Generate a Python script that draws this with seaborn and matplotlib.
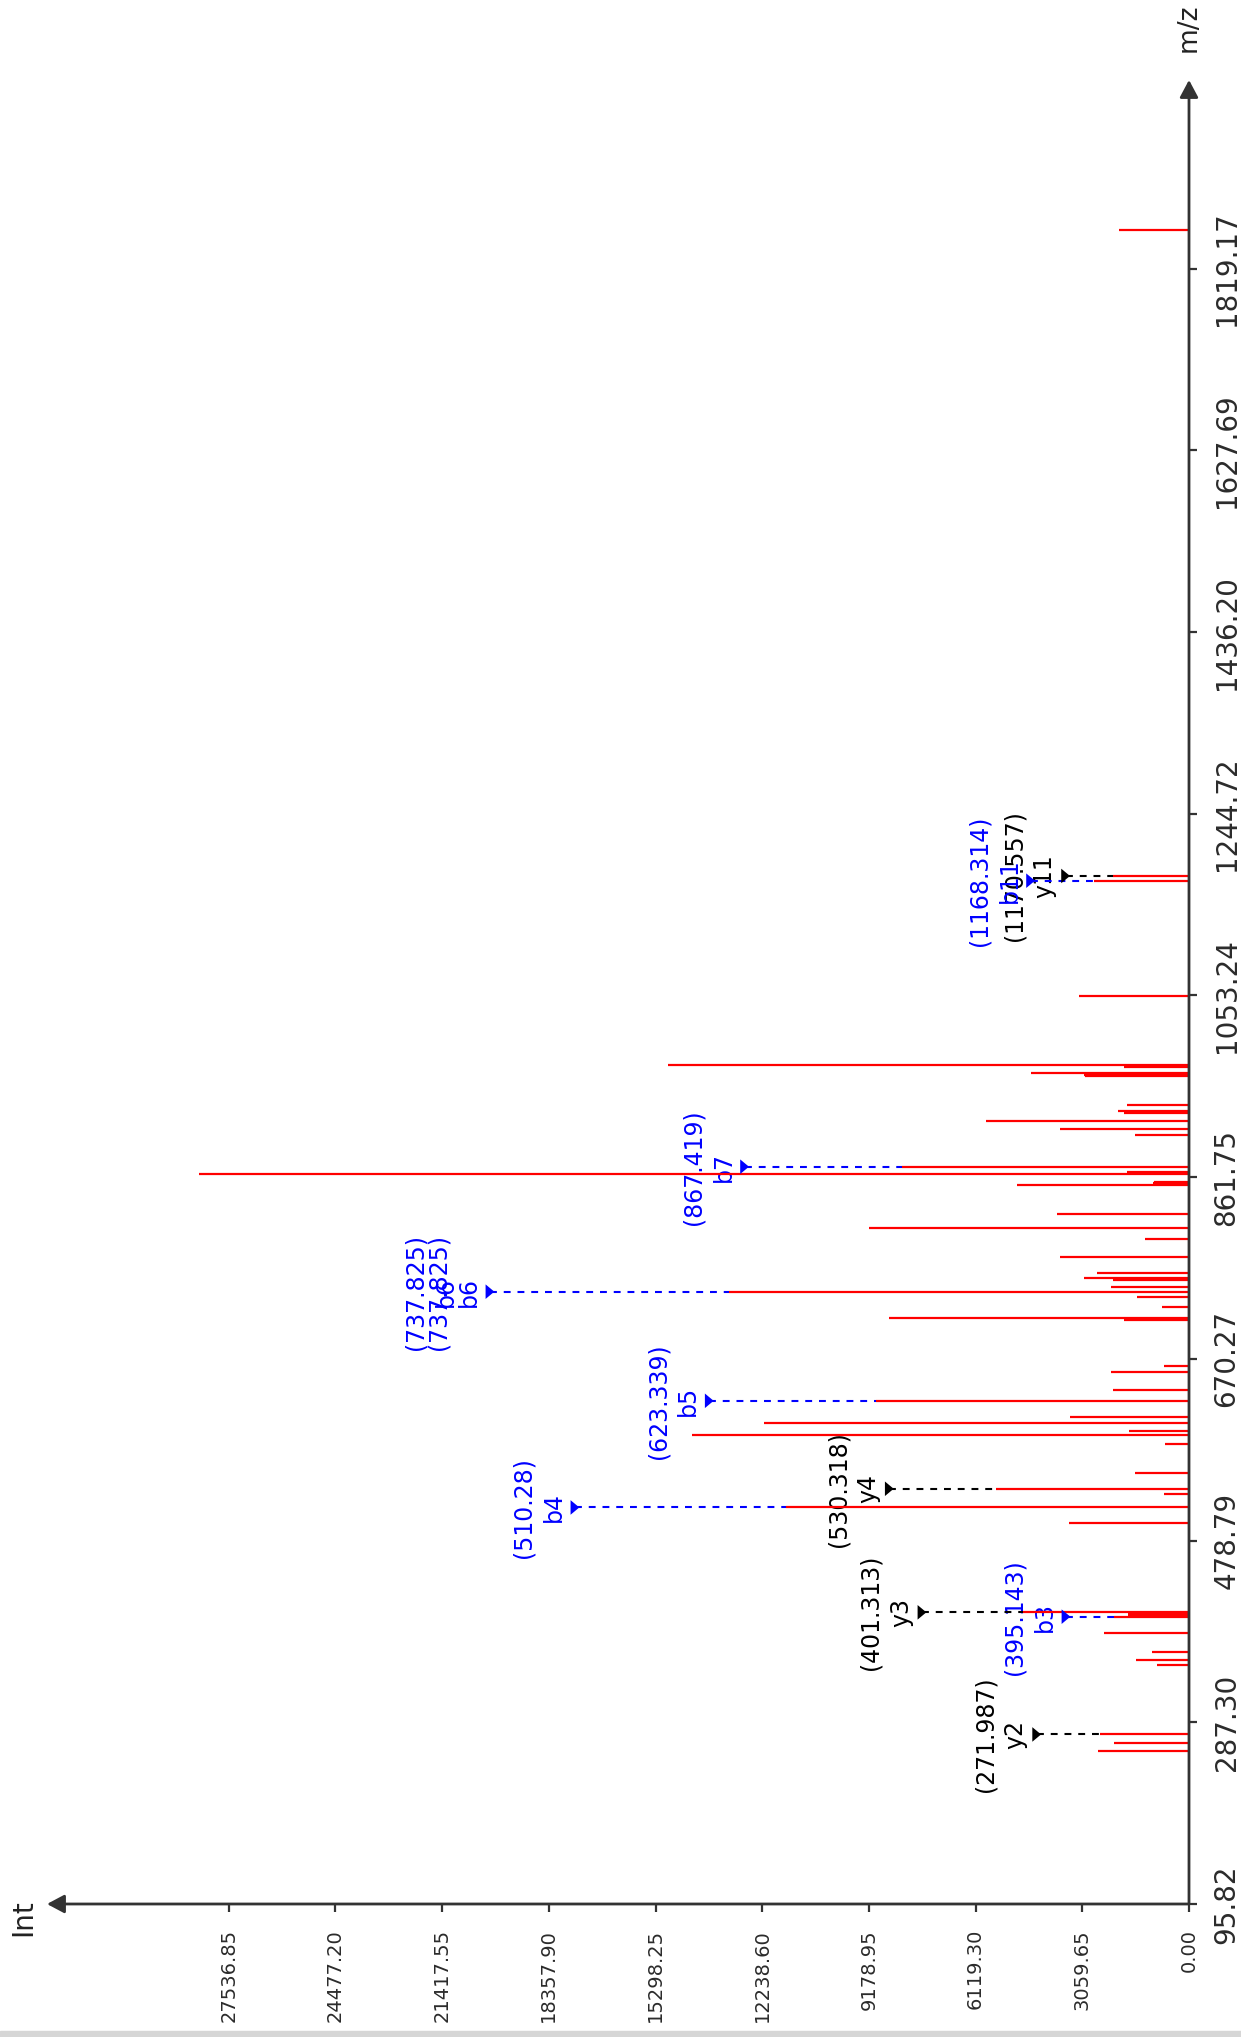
import matplotlib
matplotlib.use("Agg")
import matplotlib.pyplot as plt
import seaborn as sns
import pandas as pd
from matplotlib.path import Path
from matplotlib.patches import Rectangle

# ---------------- data ----------------
peak_mz = [257.5, 266.0, 274.5, 348.0, 353.3, 361.6, 381.3,
           398.6, 400.2, 401.5, 402.4, 403.2,
           497.0, 513.7, 527.5, 533.4, 550.3, 580.8, 590.0, 594.5, 603.2, 609.5, 626.1,
           637.5, 656.8, 662.8, 710.8, 711.8, 713.0, 724.6, 735.8, 741.1, 746.4,
           753.4, 755.2, 761.1, 777.6, 796.9, 808.5, 823.0, 853.5, 855.3, 856.3,
           864.8, 867.5, 872.8, 906.5, 912.2, 921.0, 929.7, 931.8, 937.8,
           968.6, 969.6, 971.2, 977.5, 978.6, 980.0, 1052.8, 1174.2, 1179.2, 1859.6]
peak_int = [2620, 2150, 2560, 920, 1530, 1070, 2440,
            2163, 1740, 1700, 1760, 4774,
            3450, 11550, 720, 5530, 1555, 680, 14250, 1712, 12200, 3400, 8980,
            2170, 2246, 717, 1864, 1830, 8600, 784, 1482, 13180, 2246,
            2170, 3011, 2630, 3700, 1262, 9186, 3777, 4924, 1024, 1000,
            28400, 1788, 8240, 1549, 3700, 5822, 1864, 2027, 1788,
            2980, 3011, 4541, 1864, 1840, 14950, 3166, 2733, 2180, 2000]

# annotated fragment ions
ann_ion = ["y2", "b3", "y3", "b4", "y4", "b5", "b6", "b6", "b7", "y11", "b11"]
ann_theo = [271.987, 395.143, 401.313, 510.28, 530.318, 623.339, 737.825, 737.825,
            867.419, 1170.557, 1168.314]
ann_peak_mz = [274.5, 398.6, 403.2, 513.7, 533.4, 626.1, 741.1, 741.1, 872.8, 1179.2, 1174.2]
ann_peak_int = [2560, 2163, 4774, 11550, 5530, 8980, 13180, 13180, 8240, 2180, 2733]

# axis ticks
int_ticks = [0.00, 3059.65, 6119.30, 9178.95, 12238.60, 15298.25, 18357.90,
             21417.55, 24477.20, 27536.85]
mz_ticks = [95.82, 287.30, 478.79, 670.27, 861.75, 1053.24, 1244.72, 1436.20,
            1627.69, 1819.17]

# ---------------- layout / style ----------------
ann_label_int = [4368, 3528, 7658, 17610, 8595, 13758, 20047, 20707, 12745, 3539, 4543]
ann_show_marker = [True, True, True, True, True, True, True, False, True, True, True]
INT_MAX = 32750
MZ_MIN, MZ_MAX = 95.82, 2018.0
ion_colors = {"b": "#0000ff", "y": "#000000"}
AXIS_C = "#333333"

sns.set_theme(style="white")
plt.rcParams["font.family"] = ["DejaVu Sans"]

W, H = 1241, 2037
fig = plt.figure(figsize=(W / 100, H / 100), dpi=100)
fig.patch.set_facecolor("white")
px_l, px_r, px_t, px_b = 47, 1189, 80, 1904
ax = fig.add_axes([px_l / W, 1 - px_b / H, (px_r - px_l) / W, (px_b - px_t) / H])
ax.set_facecolor("white")
ax.set_xlim(INT_MAX, 0)
ax.set_ylim(MZ_MIN, MZ_MAX)
for s in ax.spines.values():
    s.set_visible(False)
ax.grid(False)

# peaks
ax.hlines(peak_mz, 0, peak_int, colors="#ff0000", lw=1.6, zorder=3)

# annotations
ann = pd.DataFrame({"ion": ann_ion, "theo": ann_theo, "mz": ann_peak_mz,
                    "pint": ann_peak_int, "lint": ann_label_int,
                    "show": ann_show_marker})
ann["kind"] = ann["ion"].str[0]
for _, r in ann.iterrows():
    c = ion_colors[r["kind"]]
    if r["show"]:
        ax.plot([r["lint"], r["pint"]], [r["mz"], r["mz"]], color=c, lw=1.5,
                dashes=(3.3, 3.3), zorder=2.5)
    ax.annotate(r["ion"], xy=(r["lint"], r["mz"]), xytext=(-21, 0),
                textcoords="offset pixels", rotation=90, ha="center", va="center",
                fontsize=17, color=c, zorder=2)
    ax.annotate(f"({r['theo']})", xy=(r["lint"], r["mz"]), xytext=(-51, 0),
                textcoords="offset pixels", rotation=90, ha="center", va="center",
                fontsize=17, color=c, zorder=2)

tri = Path([(-0.6, 1.0), (0.6, 0.0), (-0.6, -1.0), (-0.6, 1.0)],
           [Path.MOVETO, Path.LINETO, Path.LINETO, Path.CLOSEPOLY])
sns.scatterplot(data=ann[ann["show"]], x="lint", y="mz", hue="kind",
                palette=ion_colors, marker=tri, s=110, linewidth=0,
                legend=False, ax=ax, zorder=4, clip_on=False)
ax.set_xlabel("")
ax.set_ylabel("")

# ticks
ax.set_xticks(int_ticks)
ax.set_xticklabels([f"{v:.2f}" for v in int_ticks], rotation=90)
ax.tick_params(axis="x", bottom=True, top=False, direction="out", length=6,
               width=1.6, color=AXIS_C, pad=12, labelsize=14, labelcolor="#2b2b2b")
ax.yaxis.tick_right()
ax.set_yticks(mz_ticks)
ax.set_yticklabels([f"{v:.2f}" for v in mz_ticks], rotation=90, va="center")
ax.tick_params(axis="y", right=True, left=False, direction="out", length=6,
               width=1.6, color=AXIS_C, pad=11, labelsize=20, labelcolor="#2b2b2b")

# axis lines with arrow heads
arrow_kw = dict(arrowstyle="-|>,head_length=0.75,head_width=0.4", color=AXIS_C,
                lw=2.0, mutation_scale=14, shrinkA=0, shrinkB=0)
ax.annotate("", xy=(0, 0), xytext=(1, 0), xycoords="axes fraction",
            arrowprops=arrow_kw, annotation_clip=False)
ax.annotate("", xy=(1, 1), xytext=(1, 0), xycoords="axes fraction",
            arrowprops=arrow_kw, annotation_clip=False)

fig.text(23 / W, 1 - 1918 / H, "Int", rotation=90, ha="center", va="center",
         fontsize=20, color="#222222")
fig.text(1189 / W, 1 - 28 / H, "m/z", rotation=90, ha="center", va="center",
         fontsize=19, color="#222222")

fig.patches.append(Rectangle((0, 0), 1, 6 / H, transform=fig.transFigure,
                             color="#d6d6d6", zorder=0))

fig.savefig("out.png", dpi=100, facecolor="white")
